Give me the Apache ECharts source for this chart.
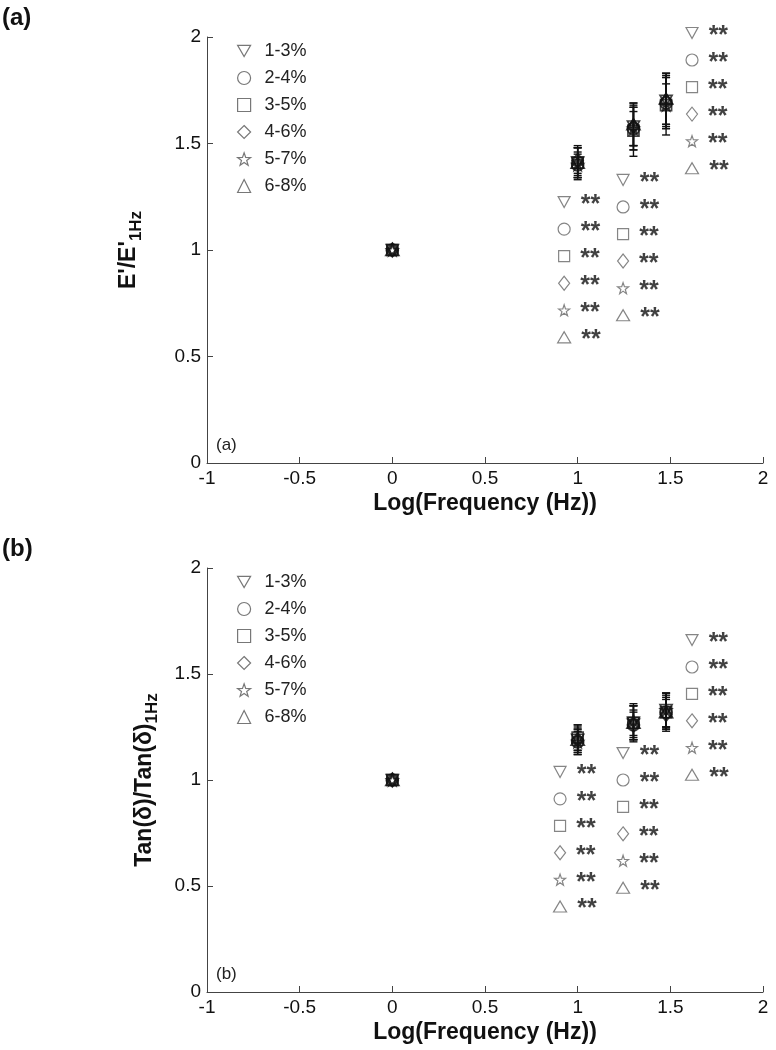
<!DOCTYPE html>
<html>
<head>
<meta charset="utf-8">
<script src="https://cdn.jsdelivr.net/npm/echarts@6/dist/echarts.min.js"></script>
<style>
html, body { margin: 0; padding: 0; background: #fff; }
#chart { width: 776px; height: 1050px; }
</style>
</head>
<body>
<div id="chart"></div>
<script>
// log10 of the test frequencies 1, 10, 20, 30 Hz
var logFreq = [0, 1, 1.301, 1.477];
var strainGroups = ['1-3%', '2-4%', '3-5%', '4-6%', '5-7%', '6-8%'];

// (a) E'/E'1Hz, one row per strain group
var storageRatio = [
  [1, 1.41, 1.58, 1.70],
  [1, 1.40, 1.57, 1.69],
  [1, 1.41, 1.56, 1.68],
  [1, 1.42, 1.58, 1.70],
  [1, 1.40, 1.57, 1.68],
  [1, 1.41, 1.59, 1.71]
];
var storageErr = [
  [0, 0.07, 0.11, 0.13],
  [0, 0.06, 0.10, 0.12],
  [0, 0.08, 0.12, 0.14],
  [0, 0.06, 0.09, 0.11],
  [0, 0.05, 0.08, 0.10],
  [0, 0.07, 0.10, 0.12]
];

// (b) Tan(d)/Tan(d)1Hz
var tanRatio = [
  [1, 1.19, 1.27, 1.33],
  [1, 1.18, 1.26, 1.32],
  [1, 1.20, 1.27, 1.32],
  [1, 1.19, 1.26, 1.31],
  [1, 1.18, 1.28, 1.33],
  [1, 1.19, 1.27, 1.32]
];
var tanErr = [
  [0, 0.06, 0.08, 0.08],
  [0, 0.05, 0.07, 0.07],
  [0, 0.06, 0.09, 0.08],
  [0, 0.05, 0.06, 0.07],
  [0, 0.06, 0.07, 0.08],
  [0, 0.07, 0.08, 0.09]
];

var xTicks = [-1, -0.5, 0, 0.5, 1, 1.5, 2];
var yTicks = [0, 0.5, 1, 1.5, 2];

// significance columns: [x, y of first row] in data units, rows go down
var sigColsA = [[0.927, 1.225], [1.245, 1.329], [1.617, 2.019]];
var sigColsB = [[0.905, 1.038], [1.245, 1.127], [1.617, 1.660]];
var sigStep = 0.127;
var sigText = '**';

var FONT = '"Liberation Sans", Arial, sans-serif';
var starPath = 'path://M10,0L12.35,6.76L19.51,6.91L13.8,11.24L15.88,18.09L10,14L4.12,18.09L6.2,11.24L0.49,6.91L7.65,6.76Z';
var markerSymbols = ['path://M0,0L12,0L6,10.4Z', 'circle', 'rect', 'diamond', starPath, 'triangle'];
var markerSizes = [[12, 11], 12, 11, [11, 14], 11, [13, 11]];

var myChart = echarts.init(document.getElementById('chart'));

function makeAxes(gridIndex) {
  var x = {
    gridIndex: gridIndex, type: 'value',
    min: xTicks[0], max: xTicks[xTicks.length - 1], interval: xTicks[1] - xTicks[0],
    name: 'Log(Frequency (Hz))', nameLocation: 'middle', nameGap: 29,
    nameTextStyle: { fontFamily: FONT, fontSize: 23, fontWeight: 'bold', color: '#111' },
    axisLine: { onZero: false, lineStyle: { color: '#444', width: 1 } },
    axisTick: { inside: true, length: 6, lineStyle: { color: '#444' } },
    axisLabel: { fontFamily: FONT, fontSize: 19, color: '#111', margin: 6 },
    splitLine: { show: false }
  };
  var y = {
    gridIndex: gridIndex, type: 'value',
    min: yTicks[0], max: yTicks[yTicks.length - 1], interval: yTicks[1] - yTicks[0],
    nameLocation: 'middle', nameRotate: 90,
    axisLine: { show: true, onZero: false, lineStyle: { color: '#444', width: 1 } },
    axisTick: { show: true, inside: true, length: 6, lineStyle: { color: '#444' } },
    axisLabel: { fontFamily: FONT, fontSize: 19, color: '#111', margin: 6 },
    splitLine: { show: false }
  };
  return [x, y];
}

var axA = makeAxes(0), axB = makeAxes(1);
axA[1].name = "{m|E'/E'}{s|1Hz}";
axA[1].nameGap = 62;
axB[1].name = '{m|Tan(δ)/Tan(δ)}{s|1Hz}';
axB[1].nameGap = 46;
[axA[1], axB[1]].forEach(function (a) {
  a.nameTextStyle = {
    fontFamily: FONT, color: '#111',
    rich: {
      m: { fontFamily: FONT, fontSize: 23, fontWeight: 'bold', color: '#111' },
      s: { fontFamily: FONT, fontSize: 17, fontWeight: 'bold', color: '#111', verticalAlign: 'bottom', lineHeight: 32 }
    }
  };
});

function errorSeries(idx, vals, errs) {
  var data = [];
  vals.forEach(function (row, g) {
    row.forEach(function (v, i) {
      if (errs[g][i] > 0) data.push([logFreq[i], v, errs[g][i]]);
    });
  });
  return {
    type: 'custom', name: 'err' + idx, xAxisIndex: idx, yAxisIndex: idx, z: 1,
    encode: { x: 0, y: 1 }, data: data,
    renderItem: function (params, api) {
      var x = api.value(0), y = api.value(1), e = api.value(2);
      var t = api.coord([x, y + e]), b = api.coord([x, y - e]);
      var w = 4, st = { stroke: '#111', lineWidth: 1.4 };
      return { type: 'group', children: [
        { type: 'line', shape: { x1: t[0], y1: t[1], x2: b[0], y2: b[1] }, style: st },
        { type: 'line', shape: { x1: t[0] - w, y1: t[1], x2: t[0] + w, y2: t[1] }, style: st },
        { type: 'line', shape: { x1: b[0] - w, y1: b[1], x2: b[0] + w, y2: b[1] }, style: st }
      ] };
    }
  };
}

function sigSeries(idx, cols) {
  var data = [];
  cols.forEach(function (c) {
    markerSymbols.forEach(function (s, i) {
      data.push({ value: [c[0], c[1] - i * sigStep], symbol: s, symbolSize: markerSizes[i] });
    });
  });
  return {
    type: 'scatter', name: 'sig' + idx, xAxisIndex: idx, yAxisIndex: idx, clip: false, silent: true,
    data: data,
    itemStyle: { color: '#fff', borderColor: '#666', borderWidth: 1.2 },
    label: { show: true, position: 'right', distance: 10, offset: [0, 3], formatter: sigText,
      fontFamily: FONT, fontSize: 25, fontWeight: 'bold', color: '#111' }
  };
}

var series = [errorSeries(0, storageRatio, storageErr), errorSeries(1, tanRatio, tanErr)];
strainGroups.forEach(function (name, g) {
  [storageRatio, tanRatio].forEach(function (vals, idx) {
    series.push({
      type: 'scatter', name: name, xAxisIndex: idx, yAxisIndex: idx, z: 3,
      symbol: markerSymbols[g], symbolSize: markerSizes[g],
      itemStyle: { color: 'rgba(255,255,255,0)', borderColor: '#111', borderWidth: 1.7 },
      data: logFreq.map(function (x, i) { return [x, vals[g][i]]; })
    });
  });
});
series.push(sigSeries(0, sigColsA), sigSeries(1, sigColsB));

function makeLegend(top) {
  return {
    data: strainGroups, orient: 'vertical', left: 232, top: top,
    itemWidth: 13, itemHeight: 13, itemGap: 9, selectedMode: false,
    itemStyle: { color: '#fff', borderColor: '#555', borderWidth: 1.2 },
    textStyle: { fontFamily: FONT, fontSize: 18, color: '#222', padding: [0, 0, 0, 9] }
  };
}

var option = {
  animation: false,
  backgroundColor: '#fff',
  grid: [
    { left: 207, top: 37, width: 556, height: 426 },
    { left: 207, top: 568, width: 556, height: 424 }
  ],
  xAxis: [axA[0], axB[0]],
  yAxis: [axA[1], axB[1]],
  legend: [makeLegend(37), makeLegend(568)],
  graphic: [
    { type: 'text', left: 2, top: 6, style: { text: '(a)', font: 'bold 24px ' + FONT, fill: '#111' } },
    { type: 'text', left: 2, top: 537, style: { text: '(b)', font: 'bold 24px ' + FONT, fill: '#111' } },
    { type: 'text', left: 216, top: 437, style: { text: '(a)', font: '17px ' + FONT, fill: '#222' } },
    { type: 'text', left: 216, top: 966, style: { text: '(b)', font: '17px ' + FONT, fill: '#222' } }
  ],
  series: series
};

if (option && typeof option === 'object') {
  myChart.setOption(option, true);
}
</script>
</body>
</html>
